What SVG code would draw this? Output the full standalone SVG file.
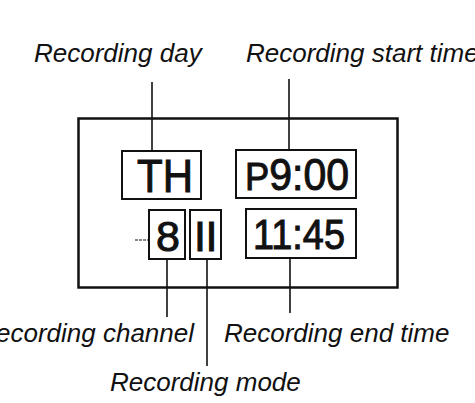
<svg xmlns="http://www.w3.org/2000/svg" width="475" height="403" viewBox="0 0 475 403">
<style>
.lbl{font-family:"Liberation Sans",Arial,sans-serif;font-style:italic;font-size:26px;fill:#111}
.seg{font-family:"Liberation Sans",Arial,sans-serif;fill:#111;stroke:#111;stroke-width:1}
.box{fill:#fff;stroke:#111;stroke-width:2}
.ln{stroke:#111;stroke-width:1.6;fill:none}
</style>
<rect width="475" height="403" fill="#fff"/>
<g id="connectors">
<line class="ln" x1="152" y1="82" x2="152" y2="151"/>
<line class="ln" x1="289" y1="79" x2="289" y2="150"/>
<line class="ln" x1="167" y1="259" x2="167" y2="317"/>
<line class="ln" x1="207" y1="259" x2="207" y2="366"/>
<line class="ln" x1="290" y1="258" x2="290" y2="313"/>
<line x1="135" y1="240" x2="155" y2="240" stroke="#111" stroke-width="1" stroke-dasharray="3 1"/>
</g>
<g id="display">
<rect x="78.5" y="118.5" width="319" height="169" fill="none" stroke="#111" stroke-width="2.5"/>
</g>
<g id="day">
<rect class="box" x="122" y="151" width="79" height="48"/>
<text class="seg" x="137" y="192" font-size="46" textLength="56" lengthAdjust="spacingAndGlyphs">TH</text>
</g>
<g id="start">
<rect class="box" x="236" y="150" width="120" height="48"/>
<text class="seg" x="245" y="190" font-size="44" textLength="104" lengthAdjust="spacingAndGlyphs"><tspan font-size="39">P</tspan>9:00</text>
</g>
<g id="channel">
<rect class="box" x="149" y="210" width="36" height="49"/>
<text class="seg" x="156" y="251" font-size="43">8</text>
</g>
<g id="mode">
<rect class="box" x="190" y="210" width="31" height="49"/>
<text class="seg" x="194 205.5" y="251" font-size="43">II</text>
</g>
<g id="end">
<rect class="box" x="246" y="209" width="110" height="49"/>
<text class="seg" x="253" y="249" font-size="43" textLength="92" lengthAdjust="spacingAndGlyphs">11:45</text>
</g>
<g id="labels">
<text class="lbl" x="34" y="62">Recording day</text>
<text class="lbl" x="246" y="62">Recording start time</text>
<text class="lbl" x="194" y="342" text-anchor="end">Recording channel</text>
<text class="lbl" x="224" y="342">Recording end time</text>
<text class="lbl" x="110" y="391">Recording mode</text>
</g>
</svg>
